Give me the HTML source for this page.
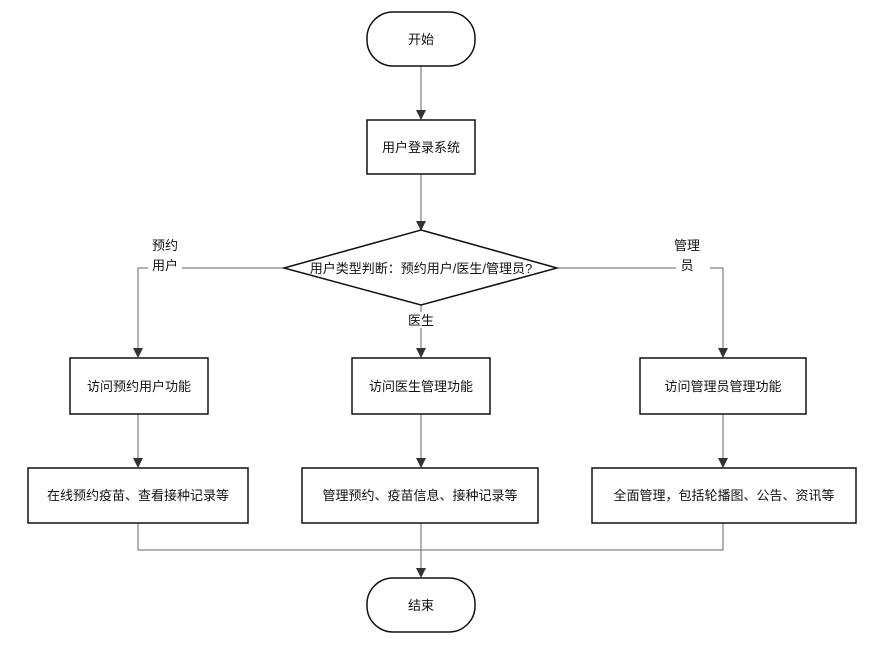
<!DOCTYPE html>
<html><head><meta charset="utf-8"><style>
html,body{margin:0;padding:0;background:#fff;}
svg text{font-family:"Liberation Sans","Noto Sans CJK SC",sans-serif;font-size:13px;fill:#111;}
</style></head><body>
<svg width="896" height="647" viewBox="0 0 896 647" xmlns="http://www.w3.org/2000/svg">
<defs><marker id="a" markerWidth="10" markerHeight="10" refX="8" refY="5" orient="auto" markerUnits="userSpaceOnUse"><path d="M0,0 L10,5 L0,10 z" fill="#333"/></marker></defs>
<g stroke="#666" stroke-width="1" fill="none">
<line x1="421" y1="66" x2="421" y2="118" marker-end="url(#a)"/>
<line x1="421" y1="174" x2="421" y2="229" marker-end="url(#a)"/>
<polyline points="284,268 138,268 138,356" marker-end="url(#a)"/>
<polyline points="557,268 723,268 723,356" marker-end="url(#a)"/>
<line x1="421" y1="305" x2="421" y2="356" marker-end="url(#a)"/>
<line x1="138" y1="414" x2="138" y2="466" marker-end="url(#a)"/>
<line x1="421" y1="414" x2="421" y2="466" marker-end="url(#a)"/>
<line x1="723" y1="414" x2="723" y2="466" marker-end="url(#a)"/>
<polyline points="138,523 138,550 723,550 723,523"/>
<line x1="421" y1="523" x2="421" y2="576" marker-end="url(#a)"/>
</g>
<g stroke="#111" stroke-width="1.5" fill="#fff">
<rect x="367" y="12" width="108" height="54" rx="26"/>
<rect x="367" y="120" width="108" height="54"/>
<polygon points="421,230 557,268 421,305 284,268"/>
<rect x="70" y="358" width="138" height="56"/>
<rect x="352" y="358" width="138" height="56"/>
<rect x="640" y="358" width="166" height="56"/>
<rect x="28" y="468" width="220" height="55"/>
<rect x="302" y="468" width="236" height="55"/>
<rect x="592" y="468" width="264" height="55"/>
<rect x="367" y="578" width="108" height="54" rx="26"/>
</g>
<g text-anchor="middle">
<text x="421" y="44">开始</text>
<text x="421" y="152">用户登录系统</text>
<text x="421" y="273">用户类型判断：预约用户/医生/管理员?</text>
<text x="139" y="391">访问预约用户功能</text>
<text x="421" y="391">访问医生管理功能</text>
<text x="723" y="391">访问管理员管理功能</text>
<text x="138" y="500">在线预约疫苗、查看接种记录等</text>
<text x="420" y="500">管理预约、疫苗信息、接种记录等</text>
<text x="724" y="500">全面管理，包括轮播图、公告、资讯等</text>
<text x="421" y="610">结束</text>
</g>
<rect x="148" y="256" width="34" height="18" fill="#fff"/>
<rect x="676" y="256" width="34" height="18" fill="#fff"/>
<rect x="404" y="312" width="34" height="16" fill="#fff"/>
<g text-anchor="middle">
<text x="165" y="250">预约</text>
<text x="165" y="270">用户</text>
<text x="687" y="250">管理</text>
<text x="687" y="270">员</text>
<text x="421" y="325">医生</text>
</g>
</svg>
</body></html>
